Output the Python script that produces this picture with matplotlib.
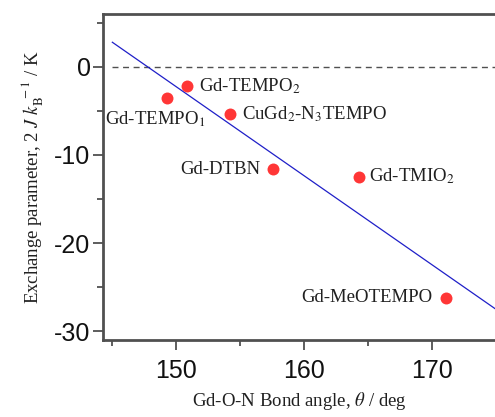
import matplotlib
matplotlib.use("Agg")
import matplotlib.pyplot as plt
from matplotlib.ticker import MultipleLocator
import numpy as np

plt.rcParams['font.family'] = ['Liberation Serif', 'DejaVu Serif']
plt.rcParams['mathtext.fontset'] = 'stix'
plt.rcParams['axes.unicode_minus'] = False

# bond angle (deg) vs exchange parameter 2J/kB (K)
names = [r"Gd-TEMPO$_1$", r"Gd-TEMPO$_2$", r"CuGd$_2$-N$_3$TEMPO",
         "Gd-DTBN", r"Gd-TMIO$_2$", "Gd-MeOTEMPO"]
angle = [149.3, 150.8, 154.2, 157.55, 164.3, 171.1]
exchange = [-3.5, -2.2, -5.4, -11.6, -12.45, -26.2]
# label offsets in pixels and horizontal alignment
label_off = [(-62, -21, 'left'), (12, 0, 'left'), (12, 0, 'left'),
             (-13, 0, 'right'), (10, 0, 'left'), (-14, 0, 'right')]

fit_range = [145, 175]

spine_col = '#505050'

fig = plt.figure(figsize=(4.95, 4.17), dpi=100)
ax = fig.add_axes([103 / 495, 77 / 417, 392 / 495, 326 / 417])

slope, icpt = np.polyfit(angle, exchange, 1)
xf = np.array(fit_range)
ax.plot(xf, slope * xf + icpt, color='#1f1fc8', lw=0.9, zorder=2)
ax.plot(fit_range, [0, 0], color=spine_col, lw=1.0, dashes=[4.3, 3.3], zorder=1)
ax.plot(angle, exchange, 'o', color='#ff3636', ms=8.6, mec='none', zorder=3)

for n, x, y, (dx, dy, ha) in zip(names, angle, exchange, label_off):
    ax.annotate(n, (x, y), xytext=(dx, dy), textcoords='offset pixels',
                ha=ha, va='center', fontsize=13.5, color='#202020')

ax.set_xlim(144.27, 174.9)
ax.set_ylim(-31, 6)
ax.xaxis.set_major_locator(MultipleLocator(10))
ax.xaxis.set_minor_locator(MultipleLocator(5))
ax.yaxis.set_major_locator(MultipleLocator(10))
ax.yaxis.set_minor_locator(MultipleLocator(5))

for s in ['left', 'bottom', 'top']:
    ax.spines[s].set_color(spine_col)
    ax.spines[s].set_linewidth(2.0)
ax.spines['right'].set_visible(False)

ax.tick_params(which='major', direction='out', length=7, width=1.3, color=spine_col)
ax.tick_params(which='minor', direction='out', length=4, width=1.3, color=spine_col)
ax.tick_params(axis='x', which='both', top=False, pad=7)
ax.tick_params(axis='y', which='both', right=False, pad=2)
for lab in ax.get_xticklabels() + ax.get_yticklabels():
    lab.set_fontfamily('Liberation Sans')
    lab.set_fontsize(18)
    lab.set_color('#111111')

ax.set_xlabel(r"Gd-O-N Bond angle, $\theta$ / deg", fontsize=13.5, color='#202020', labelpad=5)
ax.set_ylabel(r"Exchange parameter, 2 $J\ k_{\mathrm{B}}^{\ -1}$ / K", fontsize=13.5,
              color='#202020', labelpad=6)

fig.savefig('out.png', dpi=100)
